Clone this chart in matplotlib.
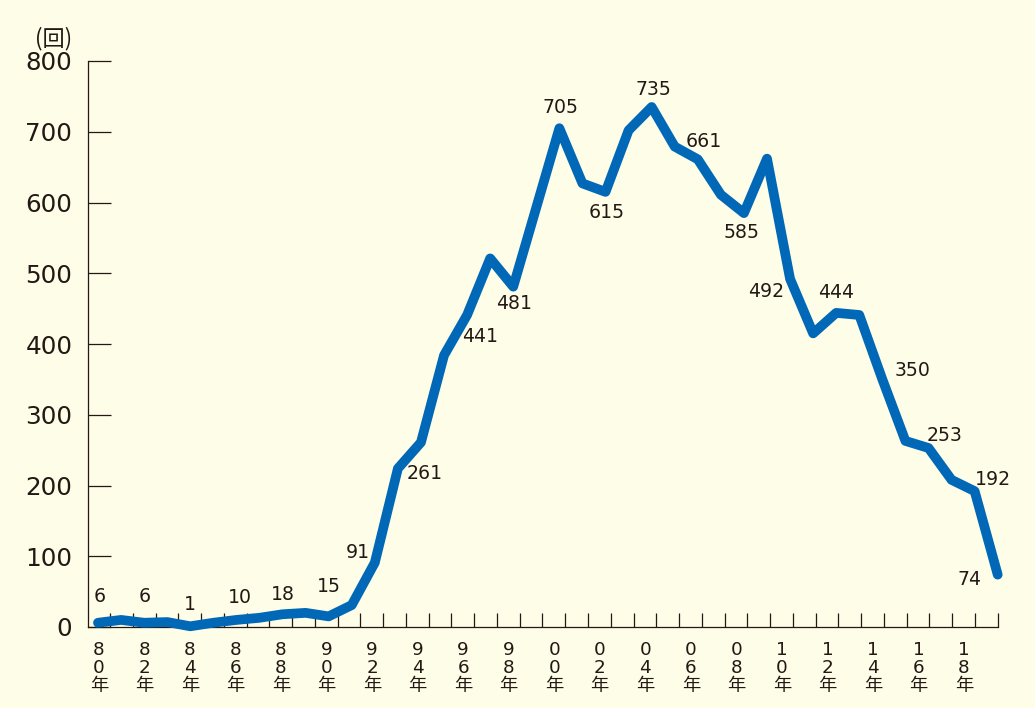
import numpy as np
import matplotlib
matplotlib.use('Agg')
import matplotlib.pyplot as plt

plt.rcParams['font.family'] = ['DejaVu Sans', 'Noto Sans CJK JP']

# Data: count per year, 1980-2019
years = list(range(1980, 2020))
counts = [6, 10, 6, 7, 1, 6, 10, 13, 18, 20,
          15, 31, 91, 224, 261, 384, 441, 521, 481, 593,
          705, 627, 615, 702, 735, 679, 661, 611, 585, 662,
          492, 415, 444, 441, 350, 263, 253, 208, 192, 74]
tick_labels = ['80', '82', '84', '86', '88', '90', '92', '94', '96', '98',
               '00', '02', '04', '06', '08', '10', '12', '14', '16', '18']
labelled_years = [1980, 1982, 1984, 1986, 1988, 1990, 1992, 1994, 1996, 1998,
                  2000, 2002, 2004, 2006, 2008, 2010, 2012, 2014, 2016, 2018, 2019]

# label offsets in pixels (dx, dy), dy positive = up
offsets = {1980: (2, 26), 1982: (1, 26), 1984: (0, 22), 1986: (3, 22), 1988: (0, 20),
           1990: (0, 30), 1992: (-17, 10), 1994: (4, -31), 1996: (13, -22), 1998: (1, -17),
           2000: (1, 21), 2002: (1, -21), 2004: (2, 17), 2006: (6, 18), 2008: (-2, -19),
           2010: (-24, -13), 2012: (0, 20), 2014: (30, 9), 2016: (16, 13), 2018: (18, 12),
           2019: (-28, -5)}

bg = '#fefde7'
blue = '#0068b6'
ink = '#231815'

fig = plt.figure(figsize=(10.35, 7.08), dpi=100, facecolor=bg)
ax = fig.add_axes([87.6 / 1035, 1 - 627 / 708, (997.7 - 87.6) / 1035, (627 - 61) / 708])
ax.set_facecolor(bg)

x = np.arange(len(years))
ax.plot(x, counts, color=blue, lw=7, solid_joinstyle='round',
        solid_capstyle='round', clip_on=False, zorder=3)

for yr in labelled_years:
    i = years.index(yr)
    dx, dy = offsets[yr]
    ax.annotate(str(counts[i]), (i, counts[i]), xytext=(dx, dy),
                textcoords='offset pixels', ha='center', va='center',
                fontsize=13.6, color=ink)

ax.set_xlim(-0.45, 39)
ax.set_ylim(0, 800)

# y axis
ax.set_yticks(range(0, 801, 100))
ax.tick_params(axis='y', direction='in', length=16.6, width=0.9, color=ink,
               pad=11, labelsize=17.7, labelcolor=ink)

# x axis: tick marks at category boundaries, labels every two years
ax.set_xticks(np.linspace(0.52, 39, 40), minor=True)
ax.set_xticks(np.linspace(0.04, 37.54, 20))
ax.set_xticklabels([f'{t[0]}\n{t[1]}\n年' for t in tick_labels], linespacing=1.0)
ax.tick_params(axis='x', which='major', length=0, pad=10, labelsize=13.2, labelcolor=ink)
ax.tick_params(axis='x', which='minor', direction='in', length=10, width=0.9, color=ink)

for s in ['top', 'right']:
    ax.spines[s].set_visible(False)
for s in ['left', 'bottom']:
    ax.spines[s].set_color(ink)
    ax.spines[s].set_linewidth(0.9)

fig.text(54 / 1035, 1 - 39 / 708, '(回)', ha='center', va='center',
         fontsize=16, color=ink, family=['Noto Sans CJK JP'])

fig.savefig('out.png', dpi=100, facecolor=bg)
